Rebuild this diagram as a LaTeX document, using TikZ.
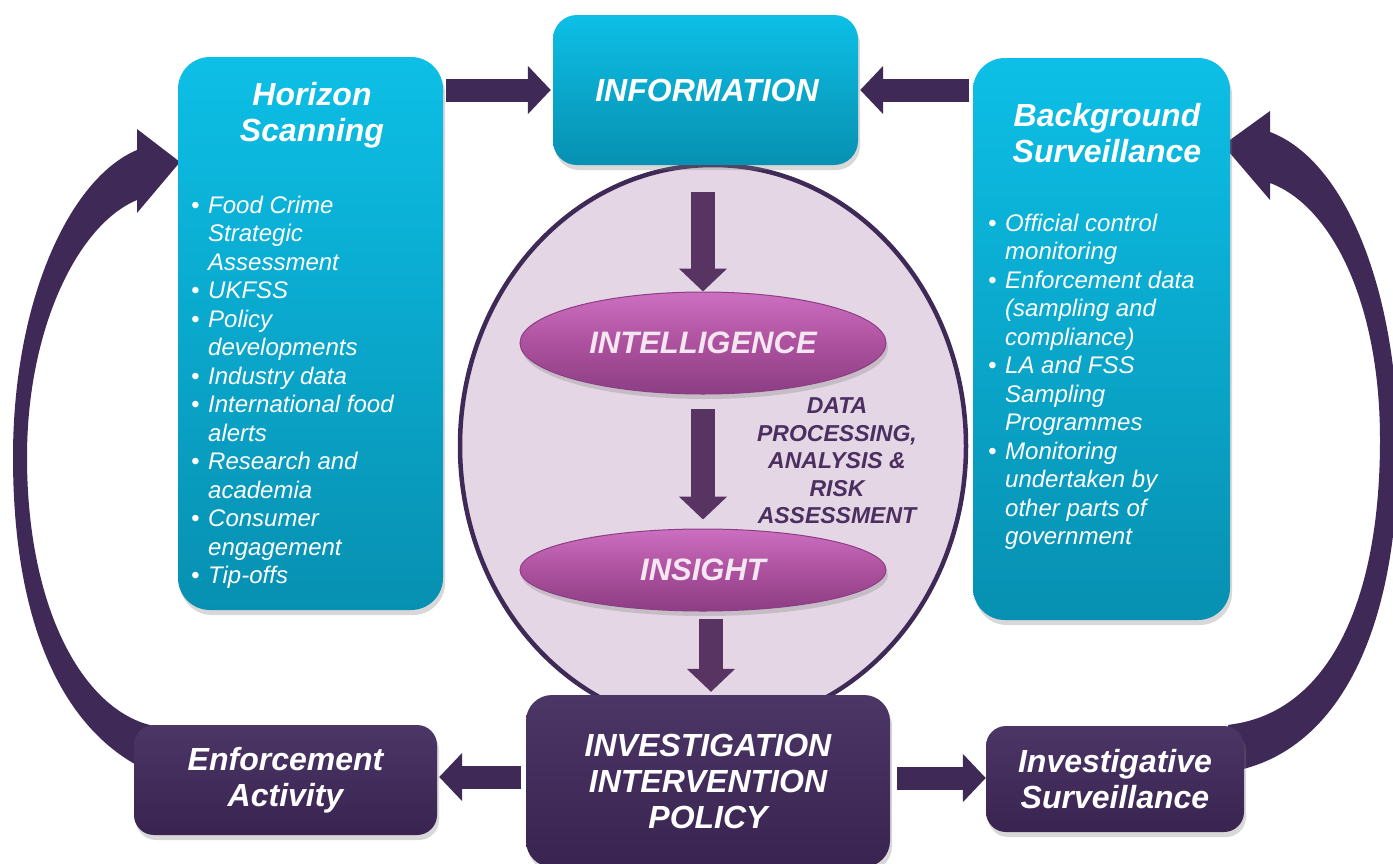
\documentclass[tikz,border=0pt]{standalone}
\usepackage{fontspec}
\setmainfont{Liberation Sans}
\usetikzlibrary{arrows.meta,shapes.geometric,shadows}

\definecolor{cyantop}{HTML}{0DBFE6}
\definecolor{cyanbottom}{HTML}{0790B1}
\definecolor{plumtop}{HTML}{4C3666}
\definecolor{plumbottom}{HTML}{392350}
\definecolor{arrowplum}{HTML}{3F2A57}
\definecolor{flowplum}{HTML}{573462}
\definecolor{corefill}{HTML}{E4D6E4}
\definecolor{pilltop}{HTML}{CD6FC1}
\definecolor{pillmid}{HTML}{AD519E}
\definecolor{pillbottom}{HTML}{8C3E84}
\definecolor{pilltext}{HTML}{F4E7F2}
\definecolor{datatext}{HTML}{4A2F60}

% bullet column for the lists
\newcommand{\bu}{\makebox[17pt][l]{\textbullet}}

\begin{document}
\begin{tikzpicture}
  [
    x                   = 1pt,
    y                   = -1pt,
    every node/.style   = {text=white, inner sep=0pt},
    boxshadow/.style    = {drop shadow={shadow xshift=2pt, shadow yshift=-5pt, opacity=.3}},
    cyanbox/.style      = {rectangle, rounded corners=32pt, top color=cyantop,
                           bottom color=cyanbottom, boxshadow},
    plumbox/.style      = {rectangle, rounded corners=20pt, top color=plumtop,
                           bottom color=plumbottom, boxshadow,
                           font=\fontsize{32}{36}\selectfont\bfseries\itshape, align=center},
    pill/.style         = {ellipse, top color=pilltop, bottom color=pillbottom,
                           middle color=pillmid, draw=pillbottom, line width=1pt,
                           boxshadow, text=pilltext,
                           font=\fontsize{31}{36}\selectfont\bfseries\itshape},
    heading/.style      = {font=\fontsize{32}{36}\selectfont\bfseries\itshape, align=center},
    itemlist/.style     = {anchor=base west, font=\fontsize{24}{28.5}\selectfont\itshape},
    linkarrow/.style    = {draw=arrowplum, line width=23pt,
                           -{Triangle[length=23pt,width=47pt]}},
    flowarrow/.style    = {draw=flowplum, line width=24pt,
                           -{Triangle[length=23pt,width=47pt]}}
  ]
  \useasboundingbox[fill=white] (0,0) rectangle (1393,863);

  % the two loop-back arrows, drawn first so the boxes cover their tails
  \fill[arrowplum]
    (150,772) -- (133,763)
    .. controls (60,720) and (13,620) .. (13,457)
    .. controls (13,300) and (70,178) .. (137,150)
    -- (137,129) -- (180,162) -- (137,213) -- (137,200)
    .. controls (77,225) and (27,330) .. (27,457)
    .. controls (27,600) and (77,700) .. (143,723)
    -- (160,728) -- cycle;
  \fill[arrowplum]
    (1235,771) -- (1247,768)
    .. controls (1345,740) and (1398,620) .. (1398,450)
    .. controls (1398,290) and (1345,160) .. (1270,132)
    -- (1270,111) -- (1223,145) -- (1270,200) -- (1270,183)
    .. controls (1330,205) and (1380,300) .. (1380,440)
    .. controls (1380,600) and (1330,705) .. (1240,723)
    -- (1228,725) -- cycle;

  % centre disc
  \node[ellipse, minimum width=506pt, minimum height=562pt, fill=corefill,
        draw=arrowplum, line width=4.5pt] (core) at (713,446) {};

  % top row
  \node[cyanbox, minimum width=265pt, minimum height=553pt] (horizon) at (310.5,333.5) {};
  \node[cyanbox, minimum width=305pt, minimum height=150pt, rounded corners=24pt]
    (info) at (705.5,90) {};
  \node[cyanbox, minimum width=257pt, minimum height=562pt] (background) at (1101.5,339) {};

  \node[heading] (hstitle) at (312,115) {Horizon\\Scanning};
  \node[heading] (infotitle) at (707,90) {INFORMATION};
  \node[heading] (bstitle) at (1107,133) {Background\\Surveillance};

  \node[itemlist] (hslist) at (191,213) {%
    \begin{tabular}[t]{@{}l@{}l@{}}
      \bu & Food Crime \\ & Strategic \\ & Assessment \\
      \bu & UKFSS \\
      \bu & Policy \\ & developments \\
      \bu & Industry data \\
      \bu & International food \\ & alerts \\
      \bu & Research and \\ & academia \\
      \bu & Consumer \\ & engagement \\
      \bu & Tip-offs
    \end{tabular}};
  \node[itemlist] (bslist) at (988,231) {%
    \begin{tabular}[t]{@{}l@{}l@{}}
      \bu & Official control \\ & monitoring \\
      \bu & Enforcement data \\ & (sampling and \\ & compliance) \\
      \bu & LA and FSS \\ & Sampling \\ & Programmes \\
      \bu & Monitoring \\ & undertaken by \\ & other parts of \\ & government
    \end{tabular}};

  % inside the disc
  \node[pill, minimum width=366pt, minimum height=102pt] (intel) at (703,343) {INTELLIGENCE};
  \node[pill, minimum width=366pt, minimum height=82pt] (insight) at (703,570) {INSIGHT};
  \node[text=datatext, align=center, font=\fontsize{23}{27.5}\selectfont\bfseries\itshape]
    (process) at (837,461) {DATA\\PROCESSING,\\ANALYSIS \&\\RISK\\ASSESSMENT};

  % bottom row
  \node[plumbox, minimum width=364pt, minimum height=172pt, rounded corners=26pt]
    (invest) at (708,781) {INVESTIGATION\\INTERVENTION\\POLICY};
  \node[plumbox, minimum width=303pt, minimum height=110pt] (enforce) at (285.5,780)
    {Enforcement\\Activity};
  \node[plumbox, minimum width=258pt, minimum height=106pt] (invsurv) at (1115,779)
    {Investigative\\Surveillance};

  % connectors
  \draw[linkarrow, shorten <=3pt, shorten >=2pt] (horizon.east |- info.west) -- (info.west);
  \draw[linkarrow, shorten <=4pt, shorten >=2pt] (background.west |- info.east) -- (info.east);
  \draw[linkarrow, shorten <=5pt, shorten >=2pt]
    ([yshift=3pt]invest.west |- enforce.east) -- ([yshift=3pt]enforce.east);
  \draw[linkarrow, shorten <=7pt]
    ([yshift=1pt]invest.east |- invsurv.west) -- ([yshift=1pt]invsurv.west);

  \draw[flowarrow, shorten <=27pt] (intel.north |- info.south) -- (intel.north);
  \draw[flowarrow, shorten <=14pt, shorten >=9pt] (intel.south) -- (insight.north);
  \draw[flowarrow, shorten <=7pt, shorten >=3pt]
    ([xshift=8pt]insight.south) -- ([xshift=8pt]insight.south |- invest.north);
\end{tikzpicture}
\end{document}
